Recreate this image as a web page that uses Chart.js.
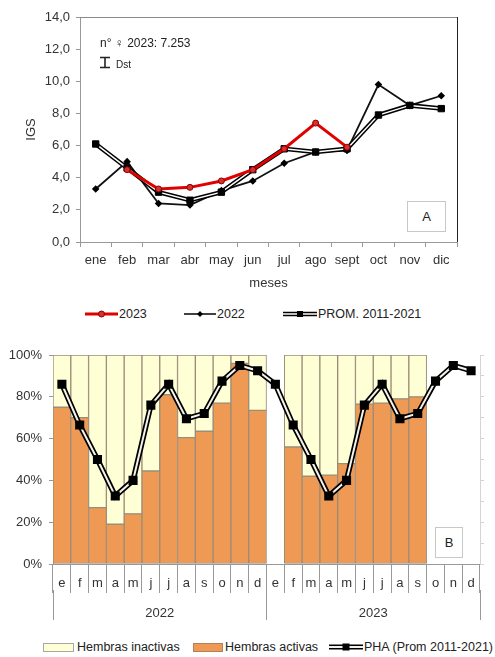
<!DOCTYPE html>
<html>
<head>
<meta charset="utf-8">
<script src="https://cdn.jsdelivr.net/npm/chart.js@4.4.0/dist/chart.umd.min.js"></script>
<style>
body{margin:0;background:#fff;font-family:"Liberation Sans",Arial,sans-serif;color:#222}
#wrap{position:relative;width:495px;height:657px;overflow:hidden}
canvas{position:absolute;left:0}
.t{position:absolute;white-space:nowrap;line-height:1}
.it{position:absolute;display:flex;align-items:center;height:14px;font-size:12.5px;white-space:nowrap;gap:1px}
.box{position:absolute;border:1px solid #c8c8c8;background:#fff;display:flex;align-items:center;justify-content:center;font-size:13px;box-sizing:border-box}
</style>
</head>
<body>
<div id="wrap">
<canvas id="igs" width="495" height="300" style="top:0"></canvas>
<canvas id="pha" width="495" height="300" style="top:330px"></canvas>

<!-- panel A notes -->
<div class="t" style="left:100px;top:37px;font-size:12px">n° ♀ 2023: 7.253</div>
<svg style="position:absolute;left:99px;top:56px" width="12" height="13"><path d="M1 1.5H11M6 1.5V11.5M1 11.5H11" stroke="#222" stroke-width="1.6" fill="none"/></svg>
<div class="t" style="left:116px;top:60px;font-size:10px">Dst</div>
<div class="box" style="left:407px;top:201px;width:39px;height:31px">A</div>

<!-- legend A -->
<div class="it" style="left:85px;top:307px">
<svg width="33" height="10"><line x1="0" y1="5" x2="33" y2="5" stroke="#e00000" stroke-width="3"/><circle cx="16.5" cy="5" r="3" fill="#d83030" stroke="#8a0000" stroke-width="1"/></svg><span>2023</span></div>
<div class="it" style="left:184px;top:307px">
<svg width="32" height="10"><line x1="0" y1="5" x2="32" y2="5" stroke="#111" stroke-width="1.6"/><path d="M16 2L19 5L16 8L13 5Z" fill="#000"/></svg><span>2022</span></div>
<div class="it" style="left:283px;top:307px">
<svg width="34" height="10"><line x1="0" y1="5" x2="34" y2="5" stroke="#000" stroke-width="4.5"/><line x1="0" y1="5" x2="34" y2="5" stroke="#fff" stroke-width="1.5"/><rect x="14" y="2" width="6" height="6" fill="#000"/></svg><span>PROM. 2011-2021</span></div>

<!-- panel B notes -->
<div class="box" style="left:435px;top:527px;width:28px;height:31px">B</div>

<!-- legend B -->
<div class="it" style="left:43px;top:640px;gap:3px">
<div style="width:31px;height:9px;background:#ffffd6;border:1px solid #a8a8a8;box-sizing:border-box"></div><span>Hembras inactivas</span></div>
<div class="it" style="left:193px;top:640px;gap:2px">
<div style="width:30px;height:9px;background:#ee9a55;border:1px solid #b08060;box-sizing:border-box"></div><span>Hembras activas</span></div>
<div class="it" style="left:329px;top:640px">
<svg width="34" height="10"><line x1="0" y1="5" x2="34" y2="5" stroke="#000" stroke-width="5"/><line x1="0" y1="5" x2="34" y2="5" stroke="#f4f2ea" stroke-width="2"/><rect x="13.5" y="1.5" width="7" height="7" fill="#000"/></svg><span>PHA (Prom 2011-2021)</span></div>
</div>

<script>
// panel A: IGS mensual
const mesesA = ['ene','feb','mar','abr','may','jun','jul','ago','sept','oct','nov','dic'];
const igs2023 = [null, 4.5, 3.3, 3.4, 3.8, 4.5, 5.8, 7.4, 5.9, null, null, null];
const igs2022 = [3.3, 5.0, 2.4, 2.3, 3.2, 3.8, 4.9, 5.6, 5.7, 9.8, 8.5, 9.1];
const igsProm = [6.1, 4.6, 3.1, 2.6, 3.1, 4.5, 5.8, 5.6, 5.8, 7.9, 8.5, 8.3];

// panel B: proporcion de hembras
const mesesB = ['e','f','m','a','m','j','j','a','s','o','n','d','e','f','m','a','m','j','j','a','s','o','n','d'];
const anios = ['2022','2023'];
const activas = [75, 70, 27, 19, 24, 44.5, 81, 60.5, 63.5, 77, 96, 73.5,
                 null, 56, 42, 42.5, 48, 76.5, 77, 79, 80, null, null, null];
const inactivas = [25, 30, 73, 81, 76, 55.5, 19, 39.5, 36.5, 23, 4, 26.5,
                   null, 44, 58, 57.5, 52, 23.5, 23, 21, 20, null, null, null];
const pha = [86, 66.5, 50, 32.5, 40, 76, 86, 69.5, 72, 87.5, 95, 92.5,
             86, 66.5, 50, 32.5, 40, 76, 86, 69.5, 72, 87.5, 95, 92.5];

Chart.defaults.font.family = '"Liberation Sans", Arial, sans-serif';
Chart.defaults.font.size = 13;
Chart.defaults.color = '#333';

const marco = {
  id: 'marco',
  beforeDatasetsDraw(c) {
    const a = c.chartArea, ctx = c.ctx;
    ctx.save();
    ctx.lineWidth = 1;
    ctx.strokeStyle = '#8a8a8a';
    ctx.beginPath(); ctx.moveTo(a.left, a.top + 0.5); ctx.lineTo(a.right, a.top + 0.5); ctx.stroke();
    ctx.strokeStyle = '#222';
    ctx.beginPath(); ctx.moveTo(a.right + 0.5, a.top); ctx.lineTo(a.right + 0.5, a.bottom); ctx.stroke();
    ctx.restore();
  }
};

new Chart(document.getElementById('igs'), {
  type: 'line',
  data: {
    labels: mesesA,
    datasets: [
      {label: '2023', data: igs2023, borderColor: '#e00000', borderWidth: 3,
       pointStyle: 'circle', pointRadius: 3, pointBackgroundColor: '#d83030', pointBorderColor: '#8a0000', pointBorderWidth: 1, order: 0},
      {label: 'PROM. 2011-2021', data: igsProm, borderColor: '#ffffff', borderWidth: 1.5,
       pointStyle: 'rect', pointRadius: 4.5, pointBackgroundColor: '#000', pointBorderColor: '#000', pointBorderWidth: 1, order: 1},
      {label: 'prom borde', data: igsProm, borderColor: '#000', borderWidth: 4.5, pointRadius: 0, order: 2},
      {label: '2022', data: igs2022, borderColor: '#111', borderWidth: 1.8,
       pointStyle: 'rectRot', pointRadius: 2.5, pointBackgroundColor: '#000', pointBorderColor: '#000', order: 3}
    ]
  },
  options: {
    responsive: false,
    animation: false,
    layout: {padding: {top: 17, right: 38, bottom: 0, left: 0}},
    plugins: {legend: {display: false}, tooltip: {enabled: false}},
    scales: {
      x: {
        offset: true,
        grid: {offset: true, drawOnChartArea: false, tickLength: 5, color: '#999'},
        border: {color: '#999'},
        ticks: {padding: 6, autoSkip: false, maxRotation: 0},
        title: {display: true, text: 'meses', padding: {top: 0, bottom: 9}},
        afterFit(s) { s.height = 58; }
      },
      y: {
        min: 0, max: 14,
        ticks: {stepSize: 2, padding: 6, callback: v => v.toFixed(1).replace('.', ',')},
        grid: {drawOnChartArea: false, tickLength: 4, color: '#999'},
        border: {color: '#999'},
        title: {display: true, text: 'IGS', padding: {top: 24, bottom: 0}},
        afterFit(s) { s.width = 80; }
      }
    }
  },
  plugins: [marco]
});

new Chart(document.getElementById('pha'), {
  type: 'bar',
  data: {
    labels: mesesB,
    datasets: [
      {type: 'line', label: 'PHA (Prom 2011-2021)', data: pha, borderColor: '#f4f2ea', borderWidth: 2,
       pointStyle: 'rect', pointRadius: 5, pointBackgroundColor: '#000', pointBorderColor: '#000', order: 0, stack: 'p1'},
      {type: 'line', label: 'pha borde', data: pha, borderColor: '#000', borderWidth: 5.5, pointRadius: 0, order: 1, stack: 'p2'},
      {label: 'Hembras activas', data: activas, backgroundColor: '#ee9a55', borderColor: '#9a8c78',
       borderWidth: 1, borderSkipped: false, order: 2, stack: 'b'},
      {label: 'Hembras inactivas', data: inactivas, backgroundColor: '#ffffd6', borderColor: '#9a8c78',
       borderWidth: 1, borderSkipped: false, order: 3, stack: 'b'}
    ]
  },
  options: {
    responsive: false,
    animation: false,
    layout: {padding: {top: 25, right: 10, bottom: 10, left: 0}},
    datasets: {bar: {barPercentage: 1, categoryPercentage: 1}},
    plugins: {legend: {display: false}, tooltip: {enabled: false}},
    scales: {
      x: {
        stacked: true, offset: true,
        grid: {offset: true, drawOnChartArea: false, tickLength: 29, color: '#999'},
        border: {color: '#999'},
        ticks: {padding: -17, autoSkip: false, maxRotation: 0},
        afterFit(s) { s.height = 26; }
      },
      x2: {
        type: 'category', labels: anios, position: 'bottom', weight: 1, offset: true,
        grid: {offset: true, drawOnChartArea: false, tickLength: 30, color: '#999'},
        border: {display: false},
        ticks: {padding: -14, autoSkip: false, maxRotation: 0},
        afterFit(s) { s.height = 30; }
      },
      y: {
        stacked: true, min: 0, max: 100,
        ticks: {stepSize: 20, padding: 7, callback: v => v + '%'},
        grid: {drawOnChartArea: false, tickLength: 4, color: '#999'},
        border: {color: '#999'},
        afterFit(s) { s.width = 53; }
      },
      y2: {
        position: 'right', min: 0, max: 100,
        ticks: {display: false, stepSize: 10},
        grid: {drawOnChartArea: false, tickLength: 4, color: '#d4d4d4'},
        border: {color: '#d4d4d4'},
        afterFit(s) { s.width = 5; }
      }
    }
  }
});
</script>
</body>
</html>
